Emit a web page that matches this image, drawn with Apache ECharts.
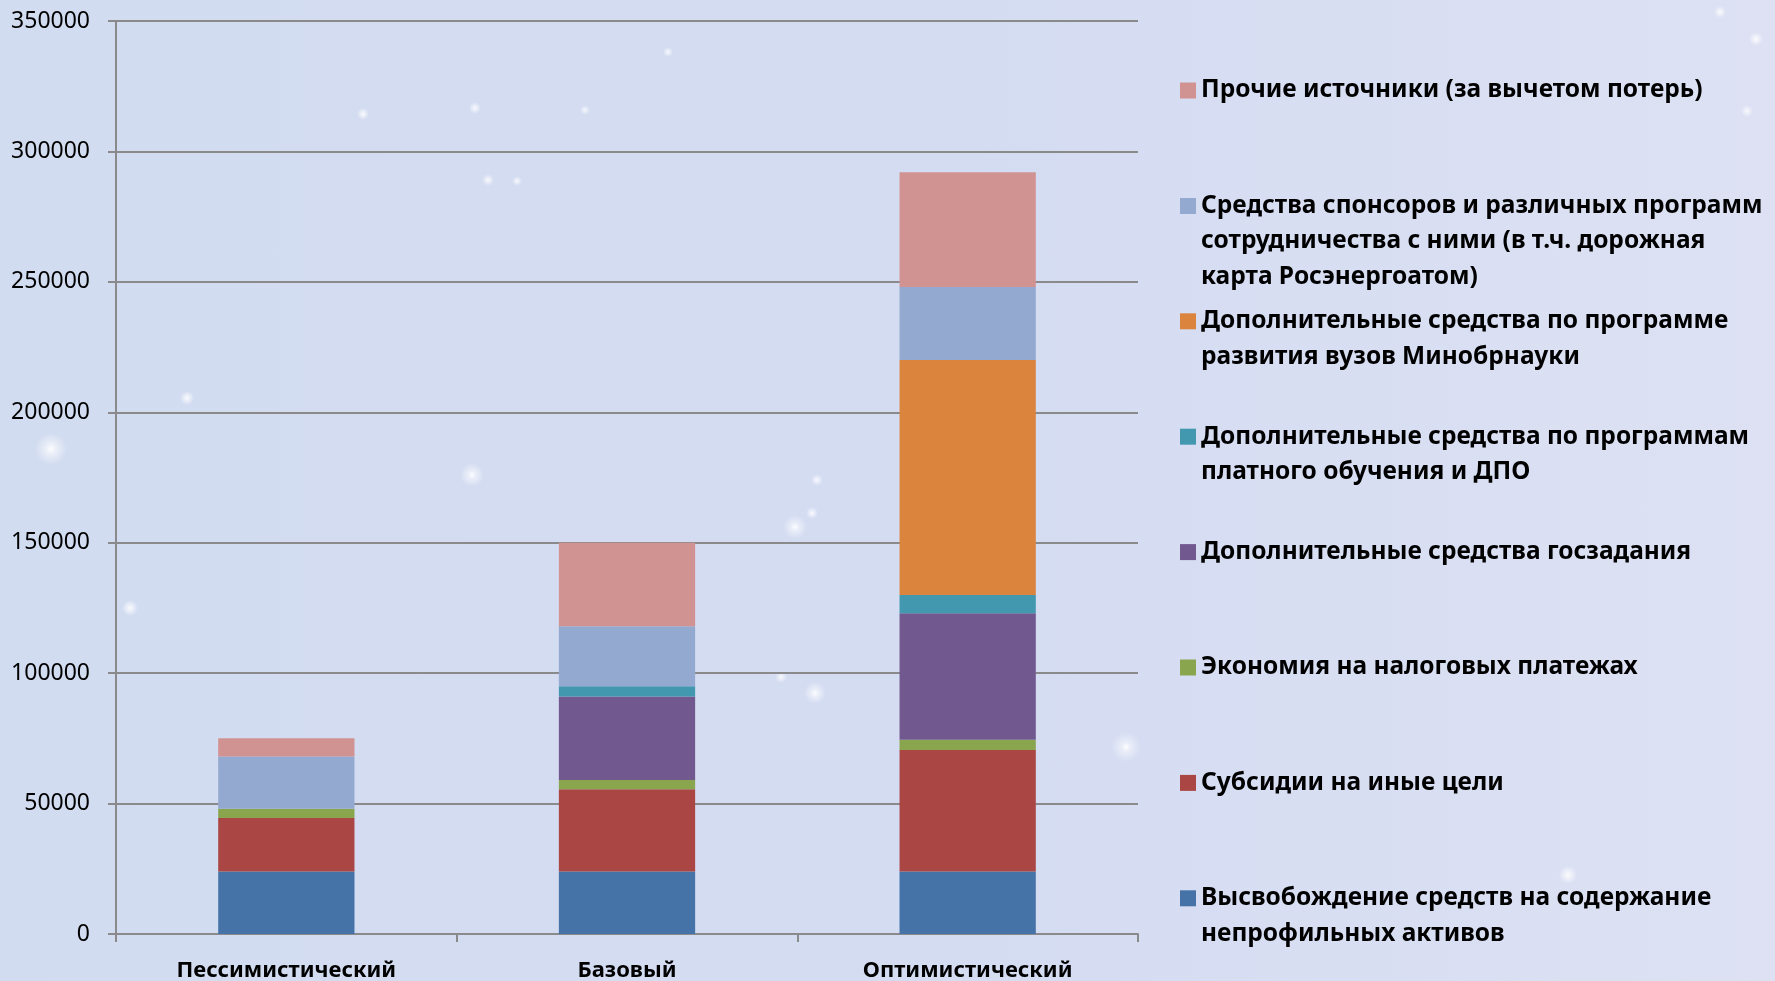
<!DOCTYPE html>
<html>
<head>
<meta charset="utf-8">
<script src="https://cdn.jsdelivr.net/npm/echarts@6/dist/echarts.min.js"></script>
<style>
  html, body { margin: 0; padding: 0; }
  #chart {
    width: 1775px;
    height: 981px;
    /* pale starry slide background */
    background:
      radial-gradient(circle at 51px 449px, rgba(255,255,255,0.95) 0, rgba(255,255,255,0.55) 5px, rgba(255,255,255,0) 16px),
      radial-gradient(circle at 472px 475px, rgba(255,255,255,0.95) 0, rgba(255,255,255,0.5) 4px, rgba(255,255,255,0) 12px),
      radial-gradient(circle at 187px 398px, rgba(255,255,255,0.9) 0, rgba(255,255,255,0) 7px),
      radial-gradient(circle at 363px 114px, rgba(255,255,255,0.9) 0, rgba(255,255,255,0) 6px),
      radial-gradient(circle at 130px 608px, rgba(255,255,255,0.9) 0, rgba(255,255,255,0) 8px),
      radial-gradient(circle at 795px 527px, rgba(255,255,255,0.95) 0, rgba(255,255,255,0.5) 4px, rgba(255,255,255,0) 12px),
      radial-gradient(circle at 815px 693px, rgba(255,255,255,0.95) 0, rgba(255,255,255,0.5) 4px, rgba(255,255,255,0) 11px),
      radial-gradient(circle at 781px 677px, rgba(255,255,255,0.8) 0, rgba(255,255,255,0) 6px),
      radial-gradient(circle at 817px 480px, rgba(255,255,255,0.85) 0, rgba(255,255,255,0) 6px),
      radial-gradient(circle at 812px 513px, rgba(255,255,255,0.85) 0, rgba(255,255,255,0) 6px),
      radial-gradient(circle at 1126px 747px, rgba(255,255,255,0.95) 0, rgba(255,255,255,0.45) 5px, rgba(255,255,255,0) 15px),
      radial-gradient(circle at 1568px 875px, rgba(255,255,255,0.9) 0, rgba(255,255,255,0) 9px),
      radial-gradient(circle at 1720px 12px, rgba(255,255,255,0.85) 0, rgba(255,255,255,0) 6px),
      radial-gradient(circle at 1756px 39px, rgba(255,255,255,0.9) 0, rgba(255,255,255,0) 7px),
      radial-gradient(circle at 1747px 111px, rgba(255,255,255,0.8) 0, rgba(255,255,255,0) 6px),
      radial-gradient(circle at 475px 108px, rgba(255,255,255,0.85) 0, rgba(255,255,255,0) 6px),
      radial-gradient(circle at 668px 52px, rgba(255,255,255,0.8) 0, rgba(255,255,255,0) 5px),
      radial-gradient(circle at 585px 110px, rgba(255,255,255,0.75) 0, rgba(255,255,255,0) 5px),
      radial-gradient(circle at 488px 180px, rgba(255,255,255,0.85) 0, rgba(255,255,255,0) 6px),
      radial-gradient(circle at 517px 181px, rgba(255,255,255,0.8) 0, rgba(255,255,255,0) 5px),
      linear-gradient(90deg, #d2dcf0 0%, #d4dcf2 55%, #dde1f3 100%);
  }
</style>
</head>
<body>
<div id="chart"></div>
<script>
// Scenarios along the x axis
const categories = ['Пессимистический', 'Базовый', 'Оптимистический'];

// Funding sources, bottom of the stack first
const seriesNames = [
  'Высвобождение средств на содержание\nнепрофильных активов',
  'Субсидии на иные цели',
  'Экономия на налоговых платежах',
  'Дополнительные средства госзадания',
  'Дополнительные средства по программам\nплатного обучения и ДПО',
  'Дополнительные средства по программе\nразвития вузов Минобрнауки',
  'Средства спонсоров и различных программ\nсотрудничества с ними (в т.ч. дорожная\nкарта Росэнергоатом)',
  'Прочие источники (за вычетом потерь)'
];

// Values per scenario (pessimistic, base, optimistic)
const nonCoreAssets   = [24000, 24000, 24000];
const otherSubsidies  = [20500, 31500, 46500];
const taxSavings      = [3500, 3500, 4000];
const stateTaskExtra  = [0, 32000, 48500];
const paidEducation   = [0, 4000, 7000];
const ministryProgram = [0, 0, 90000];
const sponsors        = [20000, 23000, 28000];
const otherSources    = [7000, 32000, 44000];

const seriesValues = [
  nonCoreAssets, otherSubsidies, taxSavings, stateTaskExtra,
  paidEducation, ministryProgram, sponsors, otherSources
];

const seriesColors = [
  '#4572a7', '#aa4643', '#89a54e', '#71588f',
  '#4198af', '#db843d', '#93a9cf', '#d19392'
];

// Value axis ticks
const yMin = 0;
const yMax = 350000;
const yStep = 50000;

const gray = '#8a8a8c';
const textFont = 'Noto Sans';
const legendSize = 24.5;
const legendLineHeight = 35.5;
const legendSquare = 16;

const chart = echarts.init(document.getElementById('chart'));

const series = seriesNames.map((name, i) => ({
  name: name,
  type: 'bar',
  stack: 'total',
  barWidth: '40%',
  itemStyle: { color: seriesColors[i] },
  emphasis: { disabled: true },
  data: seriesValues[i]
}));

// Legend marker: a square beside the first text line, inside a box as tall
// as the whole wrapped label (empty sub-paths pin the box corners).
function markerPath(lines) {
  const h = lines * legendLineHeight;
  const s = legendSquare;
  const y0 = (legendLineHeight - s) / 2;
  return 'path://M0 ' + y0 + ' L' + s + ' ' + y0 + ' L' + s + ' ' + (y0 + s) +
    ' L0 ' + (y0 + s) + ' Z M0 0 L0 0 M' + s + ' ' + h + ' L' + s + ' ' + h;
}

// One legend block per source, listed top to bottom in reverse stack order
const legends = seriesNames.slice().reverse().map((name, k) => {
  const lines = name.split('\n').length;
  return {
    orient: 'vertical',
    left: 1180,
    top: 90.5 + k * 115.4 - legendLineHeight / 2,
    padding: 0,
    itemWidth: legendSquare,
    itemHeight: lines * legendLineHeight,
    itemGap: 0,
    icon: markerPath(lines),
    selectedMode: false,
    itemStyle: { borderWidth: 0 },
    data: [name],
    textStyle: {
      fontFamily: textFont,
      fontWeight: 'bold',
      fontSize: legendSize,
      lineHeight: legendLineHeight,
      color: '#000'
    }
  };
});

chart.setOption({
  backgroundColor: 'transparent',
  animation: false,
  grid: {
    left: 116,
    right: 637,
    top: 21,
    bottom: 47,
    containLabel: false,
    outerBoundsMode: 'none'
  },
  legend: legends,
  xAxis: {
    type: 'category',
    data: categories,
    axisLine: { lineStyle: { color: gray, width: 2 } },
    axisTick: { show: true, length: 8, lineStyle: { color: gray, width: 2 } },
    axisLabel: {
      color: '#000',
      fontFamily: textFont,
      fontWeight: 'bold',
      fontSize: 22,
      margin: 26
    }
  },
  yAxis: {
    type: 'value',
    min: yMin,
    max: yMax,
    interval: yStep,
    axisLine: { show: true, lineStyle: { color: gray, width: 2 } },
    axisTick: { show: true, length: 8, lineStyle: { color: gray, width: 2 } },
    splitLine: { lineStyle: { color: gray, width: 2 } },
    axisLabel: {
      color: '#000',
      fontFamily: textFont,
      fontSize: 23,
      margin: 26,
      formatter: (v) => String(v)
    }
  },
  series: series
});
</script>
</body>
</html>
